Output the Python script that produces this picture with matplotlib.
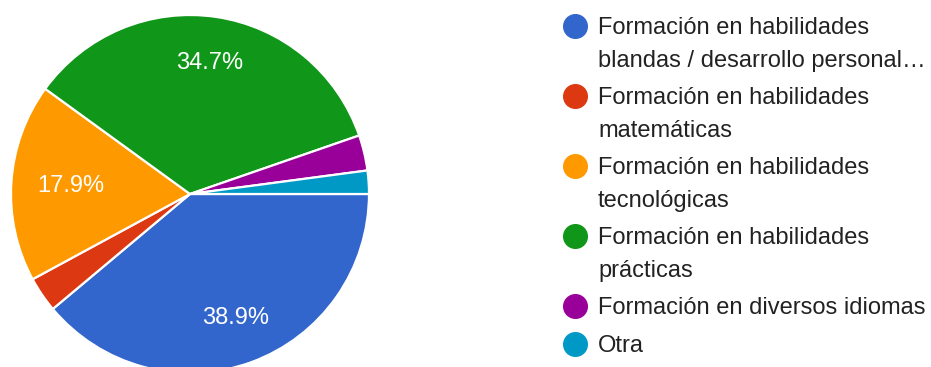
import matplotlib
matplotlib.use("Agg")
import matplotlib.pyplot as plt
import numpy as np

categories = [
    "Formación en habilidades\nblandas / desarrollo personal…",
    "Formación en habilidades\nmatemáticas",
    "Formación en habilidades\ntecnológicas",
    "Formación en habilidades\nprácticas",
    "Formación en diversos idiomas",
    "Otra",
]
values = [38.9, 3.2, 17.9, 34.7, 3.2, 2.1]
colors = ["#3366CC", "#DC3912", "#FF9900", "#109618", "#990099", "#0099C6"]

plt.rcParams['font.family'] = ['Liberation Sans', 'DejaVu Sans']

W, H = 931, 367
fig = plt.figure(figsize=(W / 100, H / 100), dpi=100)

# pie axes in pixel coordinates
cx, cy, r = 190, 194, 179
ax = fig.add_axes([(cx - r) / W, (H - (cy + r)) / H, 2 * r / W, 2 * r / H])

def fmt(p):
    return f"{p:.1f}%" if p >= 5 else ""

wedges, texts, autotexts = ax.pie(
    values, colors=colors, startangle=0, counterclock=False,
    autopct=fmt, pctdistance=0.74,
    wedgeprops=dict(edgecolor="white", linewidth=1.6),
    textprops=dict(color="white", fontsize=17),
)
# orange label sits a bit nearer the centre in the reference
w = wedges[2]
ang = np.deg2rad((w.theta1 + w.theta2) / 2)
autotexts[2].set_position((0.67 * np.cos(ang), 0.67 * np.sin(ang)))

ax.set_xlim(-1, 1)
ax.set_ylim(-1, 1)
ax.set_aspect("equal")
ax.axis("off")

# legend drawn manually
y = 26
line_step = 32
gap = 6
for cat, col in zip(categories, colors):
    fig.patches.append(plt.Circle((575 / W, 1 - y / H), 0, transform=fig.transFigure))
    fig.add_artist(matplotlib.lines.Line2D([575 / W], [1 - y / H], marker="o",
                                           markersize=17, color=col, linestyle="none",
                                           transform=fig.transFigure))
    lines = cat.split("\n")
    for i, ln in enumerate(lines):
        fig.text(598 / W, 1 - (y + i * line_step) / H, ln, fontsize=17,
                 color="#222222", va="center_baseline", ha="left")
    y += len(lines) * line_step + gap

fig.savefig("out.png", dpi=100, facecolor="white")
